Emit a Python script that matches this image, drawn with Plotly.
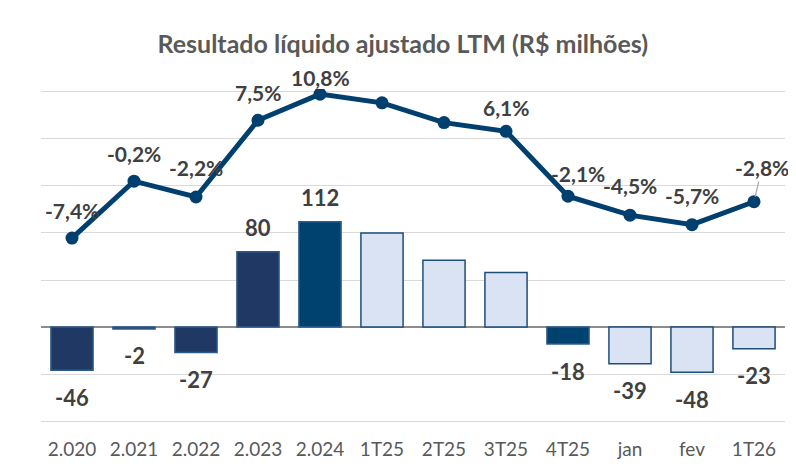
import plotly.graph_objects as go

# dados
categorias = ["2.020", "2.021", "2.022", "2.023", "2.024", "1T25", "2T25", "3T25",
              "4T25", "jan", "fev", "1T26"]
resultado = [-46, -2, -27, 80, 112, 100, 71, 58, -18, -39, -48, -23]
margem = [-7.4, -0.2, -2.2, 7.5, 10.8, 9.7, 7.2, 6.1, -2.1, -4.5, -5.7, -2.8]
mostra_barra = [True, True, True, True, True, False, False, False, True, True, True, True]
mostra_margem = [True, True, True, True, True, False, False, True, True, True, True, True]

# cores das barras
AZUL_ESC = "#203864"
AZUL_MED = "#00426F"
AZUL_CLA = "#DAE3F3"
cores = [AZUL_ESC] * 4 + [AZUL_MED] + [AZUL_CLA] * 3 + [AZUL_MED] + [AZUL_CLA] * 3
bordas = ["#2E5C8A" if c != AZUL_CLA else "#1F4E79" for c in cores]

# deslocamento dos rótulos da linha (px)
desloc_margem = [(0, 28), (0, 28), (0, 29), (0, 28), (0, 17), (0, 0), (0, 0), (0, 24),
                 (10, 23), (0, 30), (0, 29), (0, 0)]

FONTE = "Lato"
CINZA_TXT = "#404040"

fig = go.Figure()

fig.add_trace(go.Bar(
    x=categorias, y=resultado, marker_color=cores,
    marker_line_color=bordas, marker_line_width=1.5,
    yaxis="y", showlegend=False, hoverinfo="x+y",
))

fig.add_trace(go.Scatter(
    x=categorias, y=margem, mode="lines+markers", yaxis="y2",
    line=dict(color="#003F6E", width=5), marker=dict(size=13, color="#003F6E"),
    showlegend=False,
))

# rótulos das barras (x pelo índice da categoria: "2.020" viraria número)
for i, (v, ok) in enumerate(zip(resultado, mostra_barra)):
    if not ok:
        continue
    fig.add_annotation(
        x=i, y=v, xref="x", yref="y", text=f"<b>{v}</b>", showarrow=False,
        yshift=24 if v > 0 else -27, font=dict(family=FONTE, size=22, color=CINZA_TXT),
    )

# rótulos da margem
for i, (v, ok, (dx, dy)) in enumerate(zip(margem, mostra_margem, desloc_margem)):
    if not ok:
        continue
    txt = f"<b>{v:.1f}%</b>".replace(".", ",")
    if categorias[i] == "1T26":
        fig.add_annotation(
            x=i, y=v, xref="x", yref="y2", text=txt, showarrow=True,
            ax=8, ay=-34, arrowhead=0, arrowwidth=1.2, arrowcolor="#A6A6A6", standoff=5,
            font=dict(family=FONTE, size=21, color=CINZA_TXT),
        )
    else:
        fig.add_annotation(
            x=i, y=v, xref="x", yref="y2", text=txt, showarrow=False,
            xshift=dx, yshift=dy, font=dict(family=FONTE, size=21, color=CINZA_TXT),
        )

# a página desloca a figura 8 px (margem do body): compensado nas margens
fig.update_layout(
    width=796, height=468,
    margin=dict(l=33, r=19, t=81, b=52),
    paper_bgcolor="white", plot_bgcolor="white",
    title=dict(text="<b>Resultado líquido ajustado LTM (R$ milhões)</b>",
               x=0.496, xanchor="center", y=0.923, yanchor="middle",
               font=dict(family=FONTE, size=25, color="#595959")),
    bargap=0.32,
    xaxis=dict(type="category", range=[-0.5, 11.5], showgrid=False, ticks="",
               showline=False, ticklabelstandoff=12,
               tickfont=dict(family=FONTE, size=19, color="#595959")),
    yaxis=dict(range=[-103, 253], dtick=50, tick0=0, showticklabels=False,
               gridcolor="#D9D9D9", gridwidth=1,
               zeroline=True, zerolinecolor="#8C8C8C", zerolinewidth=1.5),
    yaxis2=dict(range=[-30.9, 11.45], overlaying="y", side="right", visible=False,
                showgrid=False, zeroline=False),
)

fig.write_html("out.html")
